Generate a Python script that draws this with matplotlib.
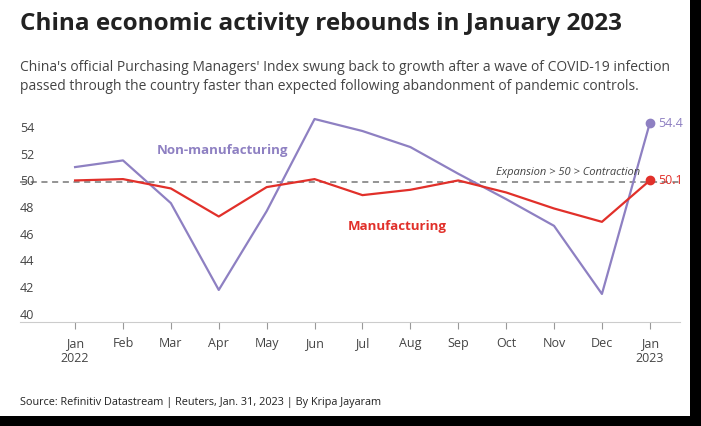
import matplotlib
matplotlib.use("Agg", force=True)
import matplotlib.pyplot as plt
from matplotlib.patches import Rectangle

months = ["Jan\n2022", "Feb", "Mar", "Apr", "May", "Jun", "Jul", "Aug", "Sep", "Oct", "Nov", "Dec", "Jan\n2023"]
non_manufacturing = [51.1, 51.6, 48.4, 41.9, 47.8, 54.7, 53.8, 52.6, 50.6, 48.7, 46.7, 41.6, 54.4]
manufacturing = [50.1, 50.2, 49.5, 47.4, 49.6, 50.2, 49.0, 49.4, 50.1, 49.2, 48.0, 47.0, 50.1]
y_ticks = [40, 42, 44, 46, 48, 50, 52, 54]

PURPLE = "#8e80c2"
RED = "#e1302a"
plt.rcParams["font.family"] = ["Open Sans", "DejaVu Sans"]

fig = plt.figure(figsize=(7.01, 4.26), dpi=100, facecolor="black")
fig.patches.append(Rectangle((0, 10 / 426), 690 / 701, 1, transform=fig.transFigure,
                             facecolor="white", edgecolor="none", zorder=-10))

ax = fig.add_axes([20 / 701, (426 - 322) / 426, 660 / 701, 207 / 426])
ax.set_facecolor("none")
x = list(range(len(months)))
ax.plot(x, non_manufacturing, color=PURPLE, lw=1.6)
ax.plot(x, manufacturing, color=RED, lw=1.6)
ax.scatter([x[-1]], [non_manufacturing[-1]], color=PURPLE, s=36, zorder=3)
ax.scatter([x[-1]], [manufacturing[-1]], color=RED, s=36, zorder=3)
ax.text(x[-1] + 0.18, non_manufacturing[-1], f"{non_manufacturing[-1]}", color=PURPLE, va="center", fontsize=9)
ax.text(x[-1] + 0.18, manufacturing[-1], f"{manufacturing[-1]}", color=RED, va="center", fontsize=9)
ax.axhline(50, color="#777777", lw=1.1, ls=(0, (4, 3)), zorder=0)
ax.text(11.8, 50.3, "Expansion > 50 > Contraction", style="italic", color="#444444", fontsize=8, ha="right", va="bottom")
ax.text(1.7, 52.1, "Non-manufacturing", color=PURPLE, fontweight="bold", fontsize=9.5, ha="left")
ax.text(5.7, 46.4, "Manufacturing", color=RED, fontweight="bold", fontsize=9.5, ha="left")

ax.set_xlim(-1.15, 12.63)
ax.set_ylim(39.5, 55)
ax.set_xticks(x, labels=months)
ax.tick_params(axis="x", length=5, color="#999999", labelsize=9, labelcolor="#444444", pad=6)
ax.set_yticks([])
for v in y_ticks:
    ax.text(-1.15, v, str(v), fontsize=9, color="#444444", va="center", ha="left")
for side in ["left", "right", "top"]:
    ax.spines[side].set_visible(False)
ax.spines["bottom"].set_color("#cccccc")

fig.text(20 / 701, 1 - 24 / 426, "China economic activity rebounds in January 2023",
         fontsize=17.5, fontweight="bold", va="center", color="#222222")
fig.text(20 / 701, 1 - 77 / 426,
         "China's official Purchasing Managers' Index swung back to growth after a wave of COVID-19 infection\n"
         "passed through the country faster than expected following abandonment of pandemic controls.",
         fontsize=10, va="center", color="#444444", linespacing=1.35)
fig.text(20 / 701, 1 - 402 / 426, "Source: Refinitiv Datastream | Reuters, Jan. 31, 2023 | By Kripa Jayaram",
         fontsize=7.8, va="center", color="#222222")

fig.savefig("out.png", dpi=100, facecolor=fig.get_facecolor())
